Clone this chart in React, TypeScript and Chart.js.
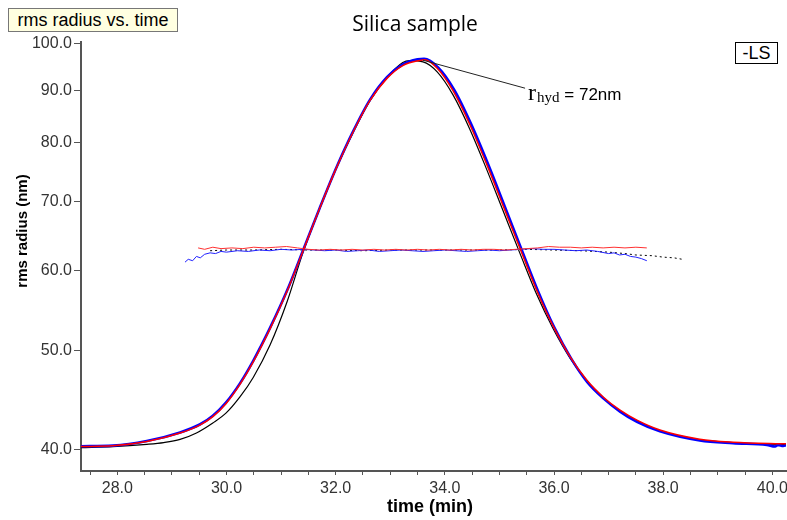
import React, { useEffect, useRef } from "react";
import { Chart, registerables } from "chart.js";
Chart.register(...registerables);

// ---- texts ----
const CHART_TITLE = "Silica sample";
const BOX_LABEL = "rms radius vs. time";
const LEGEND_LABEL = "-LS";
const X_TITLE = "time (min)";
const Y_TITLE = "rms radius (nm)";

// ---- ticks ----
const xTickValues = [27.5, 28, 28.5, 29, 29.5, 30, 30.5, 31, 31.5, 32, 32.5, 33, 33.5, 34, 34.5, 35, 35.5, 36, 36.5, 37, 37.5, 38, 38.5, 39, 39.5, 40];
const xLabeledTicks = [28, 30, 32, 34, 36, 38, 40];
const yTickValues = [40, 50, 60, 70, 80, 90, 100];

// ---- LS peak traces ----
const peakTimeRed = [27.335, 27.92, 28.54, 29.15, 29.51, 29.75, 29.99, 30.25, 30.49, 30.8, 31.11, 31.4, 31.71, 32.02, 32.32, 32.63, 32.94, 33.23, 33.54, 33.63, 33.86, 34.15, 34.46, 34.77, 35.06, 35.38, 35.69, 35.98, 36.29, 36.6, 36.9, 37.21, 37.52, 37.94, 38.67, 39.28, 40.14, 40.25];
const peakRed = [40.3, 40.36, 40.75, 41.54, 42.29, 43.11, 44.39, 46.4, 48.78, 52.58, 57.21, 62.62, 69.06, 75.72, 81.98, 88.03, 92.53, 95.24, 96.35, 96.5, 94.66, 90.0, 83.34, 76.15, 69.58, 62.97, 57.21, 52.94, 49.4, 46.82, 45.07, 43.74, 42.77, 41.83, 40.97, 40.69, 40.55, 40.54];

const peakTimeBlue = [27.335, 27.92, 28.54, 29.15, 29.51, 29.75, 29.99, 30.25, 30.49, 30.8, 31.11, 31.4, 31.71, 32.02, 32.32, 32.63, 32.94, 33.23, 33.5, 33.62, 33.88, 34.17, 34.48, 34.79, 35.08, 35.4, 35.71, 36.0, 36.31, 36.61, 36.91, 37.21, 37.52, 37.94, 38.67, 39.28, 39.9, 40.05, 40.1, 40.2, 40.25];
const peakBlue = [40.32, 40.38, 40.8, 41.6, 42.35, 43.2, 44.5, 46.5, 48.9, 52.7, 57.3, 62.7, 69.1, 75.8, 82.1, 88.2, 92.8, 95.5, 96.6, 96.7, 94.8, 90.2, 83.5, 76.3, 69.7, 63.0, 57.2, 52.8, 49.2, 46.6, 44.9, 43.6, 42.6, 41.7, 40.85, 40.6, 40.45, 40.3, 40.45, 40.35, 40.4];

const peakTimeBlack = [27.335, 27.92, 28.54, 28.85, 29.15, 29.45, 29.75, 29.99, 30.25, 30.49, 30.8, 31.11, 31.4, 31.71, 32.02, 32.32, 32.63, 32.94, 33.23, 33.36, 33.6, 33.86, 34.15, 34.46, 34.77, 35.06, 35.38, 35.69, 35.98, 36.29, 36.6, 36.9, 37.21, 37.52, 37.94, 38.67, 39.28, 40.14, 40.25];
const peakBlack = [40.2, 40.29, 40.5, 40.66, 40.95, 41.55, 42.5, 43.45, 45.1, 47.1, 50.7, 55.87, 62.4, 69.0, 75.7, 81.9, 88.0, 92.7, 95.93, 96.3, 96.04, 93.9, 89.15, 82.46, 75.26, 68.77, 62.26, 56.7, 52.63, 49.23, 46.74, 44.95, 43.65, 42.7, 41.75, 40.9, 40.65, 40.5, 40.5];

// ---- rms radius traces ----
const rmsTimeRed = [29.48, 29.6, 29.75, 29.9, 30.1, 30.3, 30.5, 30.7, 30.9, 31.1, 31.3, 31.5, 31.7, 31.9, 32.1, 32.3, 32.5, 32.7, 32.9, 33.1, 33.3, 33.5, 33.7, 33.9, 34.1, 34.3, 34.5, 34.7, 34.9, 35.1, 35.3, 35.5, 35.7, 35.9, 36.1, 36.3, 36.5, 36.7, 36.9, 37.1, 37.3, 37.5, 37.7];
const rmsRed = [63.1, 62.9, 63.2, 63.0, 63.1, 63.0, 63.2, 63.1, 63.2, 63.3, 63.1, 62.9, 62.8, 62.9, 62.8, 62.9, 62.8, 62.9, 62.8, 62.9, 62.8, 62.9, 62.8, 62.9, 62.8, 62.9, 62.8, 62.9, 62.9, 62.8, 62.9, 63.0, 63.1, 63.3, 63.2, 63.2, 63.1, 63.2, 63.1, 63.2, 63.1, 63.2, 63.1];

const rmsTimeBlue = [29.24, 29.3, 29.38, 29.45, 29.52, 29.6, 29.7, 29.8, 29.9, 30.0, 30.2, 30.4, 30.6, 30.8, 31.0, 31.2, 31.4, 31.6, 31.8, 32.0, 32.2, 32.4, 32.6, 32.8, 33.0, 33.2, 33.4, 33.6, 33.8, 34.0, 34.2, 34.4, 34.6, 34.8, 35.0, 35.2, 35.4, 35.6, 35.8, 36.0, 36.2, 36.4, 36.6, 36.8, 37.0, 37.1, 37.2, 37.3, 37.4, 37.5, 37.6, 37.7];
const rmsBlue = [61.1, 61.5, 61.3, 61.9, 61.7, 62.2, 62.4, 62.3, 62.6, 62.5, 62.7, 62.6, 62.8, 62.7, 62.9, 62.8, 62.9, 62.8, 62.7, 62.8, 62.6, 62.7, 62.8, 62.6, 62.7, 62.8, 62.7, 62.6, 62.7, 62.8, 62.7, 62.6, 62.7, 62.8, 62.7, 62.8, 62.9, 63.0, 62.9, 62.9, 62.8, 62.7, 62.8, 62.6, 62.3, 62.4, 62.1, 62.2, 61.9, 61.8, 61.6, 61.3];

const rmsTimeBlack = [29.7, 30.0, 30.5, 31.0, 31.5, 32.0, 32.5, 33.0, 33.5, 34.0, 34.5, 35.0, 35.5, 36.0, 36.5, 37.0, 37.3, 37.5, 37.8, 38.0, 38.2, 38.35];
const rmsBlack = [62.7, 62.8, 62.8, 62.9, 62.8, 62.8, 62.7, 62.8, 62.8, 62.8, 62.8, 62.8, 62.9, 62.8, 62.7, 62.5, 62.3, 62.1, 62.0, 61.8, 61.7, 61.5];

// ---- annotation ----
const annoFrom = [33.6, 96.4];
const annoTo = [35.47, 90.5];

const pts = (t: number[], v: number[]) => t.map((x, i) => ({ x, y: v[i] }));

const overlayPlugin = {
  id: "overlay",
  afterDraw(chart: any) {
    const { ctx, scales } = chart;
    const xs = scales.x, ys = scales.y;
    ctx.save();
    ctx.fillStyle = "#000";
    // title
    ctx.font = '21px "Open Sans", sans-serif';
    ctx.textAlign = "center";
    ctx.textBaseline = "middle";
    ctx.fillText(CHART_TITLE, 415, 25);
    // x title
    ctx.font = 'bold 18px "Liberation Sans", Arial, sans-serif';
    ctx.fillText(X_TITLE, 430, 507);
    // y title
    ctx.save();
    ctx.translate(23, 231);
    ctx.rotate(-Math.PI / 2);
    ctx.font = 'bold 15px "Liberation Sans", Arial, sans-serif';
    ctx.fillText(Y_TITLE, 0, 0);
    ctx.restore();
    // annotation line
    const x1 = xs.getPixelForValue(annoFrom[0]);
    const y1 = ys.getPixelForValue(annoFrom[1]);
    const x2 = xs.getPixelForValue(annoTo[0]);
    const y2 = ys.getPixelForValue(annoTo[1]);
    ctx.strokeStyle = "#222";
    ctx.lineWidth = 1;
    ctx.beginPath();
    ctx.moveTo(x1, y1);
    ctx.lineTo(x2, y2);
    ctx.stroke();
    ctx.textAlign = "left";
    ctx.textBaseline = "alphabetic";
    let tx = x2 + 3;
    const base = y2 + 12;
    ctx.font = '24px "Liberation Serif", serif';
    ctx.fillText("r", tx, base);
    tx += ctx.measureText("r").width + 1;
    ctx.font = '15px "Liberation Serif", serif';
    ctx.fillText("hyd", tx, base + 2);
    tx += ctx.measureText("hyd").width;
    ctx.font = '17px "Liberation Sans", Arial, sans-serif';
    ctx.fillText(" = 72nm", tx, base);
    ctx.restore();
  },
};

export default function App() {
  const ref = useRef<HTMLCanvasElement | null>(null);
  useEffect(() => {
    if (!ref.current) return;
    const tickFont = { family: '"Liberation Sans Narrow", "Liberation Sans", Arial, sans-serif', size: 16 };
    const chart = new Chart(ref.current, {
      type: "line",
      data: {
        datasets: [
          { label: "red peak", data: pts(peakTimeRed, peakRed), borderColor: "#ff0000", borderWidth: 1.5, pointRadius: 0, cubicInterpolationMode: "monotone", order: 0 },
          { label: "blue peak", data: pts(peakTimeBlue, peakBlue), borderColor: "#0000ff", borderWidth: 2.6, pointRadius: 0, cubicInterpolationMode: "monotone", order: 1 },
          { label: "black peak", data: pts(peakTimeBlack, peakBlack), borderColor: "#000000", borderWidth: 1.2, pointRadius: 0, cubicInterpolationMode: "monotone", order: 2 },
          { label: "red rms", data: pts(rmsTimeRed, rmsRed), borderColor: "#ff3030", borderWidth: 1, pointRadius: 0, tension: 0, order: 0 },
          { label: "blue rms", data: pts(rmsTimeBlue, rmsBlue), borderColor: "#2020ff", borderWidth: 1, pointRadius: 0, tension: 0, order: 1 },
          { label: "black rms", data: pts(rmsTimeBlack, rmsBlack), borderColor: "#000000", borderWidth: 1, borderDash: [2, 3], pointRadius: 0, tension: 0, order: 2 },
        ],
      },
      options: {
        responsive: true,
        maintainAspectRatio: false,
        animation: false,
        layout: { padding: { top: 42, right: 1, left: 0, bottom: 0 } },
        plugins: { legend: { display: false }, tooltip: { enabled: false }, title: { display: false } },
        scales: {
          x: {
            type: "linear",
            min: 27.335,
            max: 40.25,
            afterBuildTicks: (s: any) => { s.ticks = xTickValues.map((v) => ({ value: v })); },
            afterFit: (s: any) => { s.height = 49; s.paddingLeft = 0; s.paddingRight = 0; },
            ticks: {
              autoSkip: false,
              maxRotation: 0,
              padding: 4,
              color: "#333",
              font: tickFont,
              callback: (v: any) => (xLabeledTicks.includes(Number(v)) ? Number(v).toFixed(1) : ""),
            },
            grid: { drawOnChartArea: false, drawTicks: true, tickLength: 4, color: "#555" },
            border: { display: true, color: "#555", width: 2 },
          },
          y: {
            type: "logarithmic",
            min: 38.13,
            max: 100.45,
            afterBuildTicks: (s: any) => { s.ticks = yTickValues.map((v) => ({ value: v })); },
            afterFit: (s: any) => { s.width = 81; s.paddingTop = 0; s.paddingBottom = 0; },
            ticks: {
              autoSkip: false,
              padding: 2,
              color: "#333",
              font: tickFont,
              callback: (v: any) => Number(v).toFixed(1),
            },
            grid: { drawOnChartArea: false, drawTicks: true, tickLength: 7, color: "#555" },
            border: { display: true, color: "#555", width: 2 },
          },
        },
      },
      plugins: [overlayPlugin],
    } as any);
    return () => chart.destroy();
  }, []);

  return (
    <div style={{ position: "fixed", left: 0, top: 0, width: 787, height: 520, background: "#fff" }}>
      <canvas ref={ref} />
      <div
        style={{
          position: "absolute", left: 8, top: 8, width: 168, height: 22,
          background: "#ffffe1", border: "1px solid #777",
          font: '18px "Liberation Sans", Arial, sans-serif', lineHeight: "22px",
          textAlign: "center", color: "#000", boxSizing: "content-box",
        }}
      >
        {BOX_LABEL}
      </div>
      <div
        style={{
          position: "absolute", left: 735, top: 42, width: 41, height: 20,
          background: "#fff", border: "1px solid #000",
          font: '18px "Liberation Sans", Arial, sans-serif', lineHeight: "20px",
          textAlign: "center", color: "#000",
        }}
      >
        {LEGEND_LABEL}
      </div>
    </div>
  );
}
